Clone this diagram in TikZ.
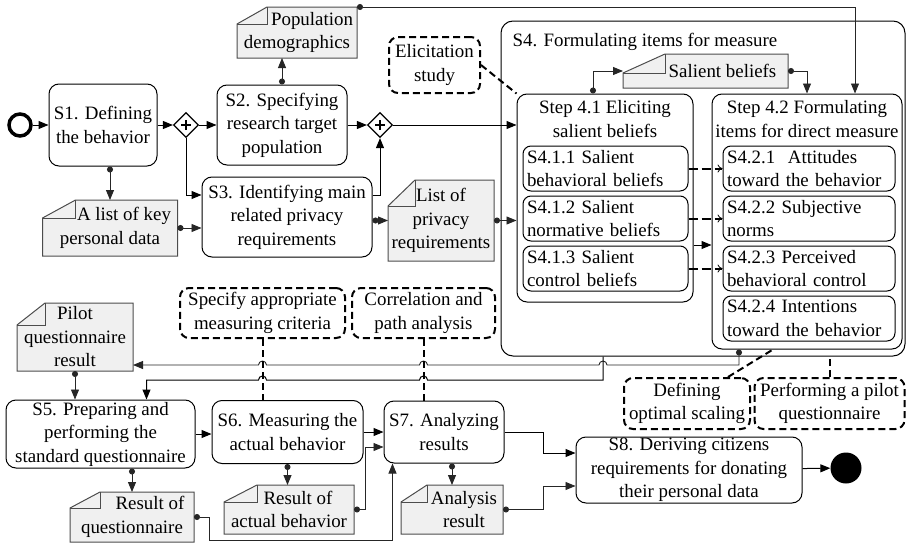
\documentclass[tikz,border=0pt]{standalone}
\usepackage{fontspec}
\setmainfont{Liberation Serif}
\usetikzlibrary{arrows.meta,shapes.geometric,backgrounds}

\newcommand\figfont{\fontsize{18.9}{23.5}\selectfont}

\tikzset{
  task/.style  = {rectangle, rounded corners=10pt, draw=black, line width=1pt,
                  align=center, inner sep=1pt, font=\figfont},
  sub/.style   = {rectangle, rounded corners=8pt, draw=black, line width=1pt,
                  align=left, inner xsep=4pt, inner ysep=1pt, minimum height=45pt, font=\figfont},
  doc/.style   = {rectangle, align=center, inner sep=1pt, outer sep=0pt, font=\figfont},
  anno/.style  = {rectangle, rounded corners=9pt, draw=black, line width=2pt,
                  dash pattern=on 7pt off 4pt, align=center, inner sep=1pt, font=\figfont},
  gate/.style  = {diamond, draw=black, line width=1.2pt, minimum size=25pt, inner sep=0pt,
                  path picture={
                    \draw[line width=2.6pt]
                      ([xshift=-5pt]path picture bounding box.center) -- ([xshift=5pt]path picture bounding box.center)
                      ([yshift=-5pt]path picture bounding box.center) -- ([yshift=5pt]path picture bounding box.center);
                  }},
  docline/.style = {draw=black!70, fill=black!6, line width=1pt},
  flow/.style  = {-{Triangle[length=10pt, width=8pt]}, line width=1pt},
  data/.style  = {{Circle[length=6pt]}-{Triangle[length=10pt, width=8pt]}, line width=0.9pt, black!85},
  assoc/.style = {line width=2pt, dash pattern=on 7pt off 4pt},
  inner/.style = {-{To[length=5pt, width=8pt, line width=0.8pt]}, line width=2pt,
                  dash pattern=on 9pt off 4pt},
}

\begin{document}
\begin{tikzpicture}[x=1pt, y=-1pt]
  \useasboundingbox (0,0) rectangle (906,546);

  % top row
  \node[circle, draw=black, line width=3.5pt, minimum size=22pt, inner sep=0pt] (start) at (20,125) {};
  \node[task, minimum width=108pt, minimum height=82pt] (s1) at (103,125) {S1. Defining\\the behavior};
  \node[gate] (gw1) at (186,125) {};
  \node[task, minimum width=130pt, minimum height=80pt] (s2) at (282,125) {S2. Specifying\\research target\\population};
  \node[gate] (gw2) at (380,125) {};
  \node[task, minimum width=170pt, minimum height=80pt] (s3) at (287,217) {S3. Identifying main\\related privacy\\requirements};

  \node[doc, minimum width=120pt, minimum height=51pt] (pop) at (297,32.5) {\hspace*{30pt}Population\\demographics};
  \node[doc, minimum width=135pt, minimum height=56pt] (keydata) at (110,228) {\hspace*{28pt}A list of key\\personal data};
  \node[doc, minimum width=106pt, minimum height=81pt] (privreq) at (441,220.5) {List of\\privacy\\requirements};
  \node[anno, minimum width=91pt, minimum height=56pt] (elicit) at (434.5,65) {Elicitation\\study};

  % S4 with its two steps
  \node[task, rounded corners=12pt, minimum width=404pt, minimum height=335pt] (s4) at (703,188.5) {};
  \node[anchor=west, inner sep=0pt, font=\figfont] (s4title) at ([shift={(12pt,-21pt)}]s4.north west) {S4. Formulating items for measure};
  \node[doc, minimum width=165pt, minimum height=34pt] (salient) at (705.5,71) {\hspace*{34pt}Salient beliefs};

  \node[task, minimum width=176pt, minimum height=208pt] (step41) at (605,198) {};
  \node[anchor=north, align=center, inner sep=1pt, font=\figfont] (step41t) at ([yshift=-6pt]step41.north) {Step 4.1 Eliciting\\salient beliefs};
  \node[task, minimum width=190pt, minimum height=255pt] (step42) at (807,221.5) {};
  \node[anchor=north, align=center, inner sep=1pt, font=\figfont] (step42t) at ([yshift=-6pt]step42.north) {Step 4.2 Formulating\\items for direct measure};

  \node[sub, text width=157pt] (s411) at (605.5,168.5) {S4.1.1 Salient\\behavioral beliefs};
  \node[sub, text width=157pt] (s412) at (605.5,218.5) {S4.1.2 Salient\\normative beliefs};
  \node[sub, text width=157pt] (s413) at (605.5,268.5) {S4.1.3 Salient\\control beliefs};
  \node[sub, text width=164pt] (s421) at (809,168.5) {S4.2.1\ \ Attitudes\\toward the behavior};
  \node[sub, text width=164pt] (s422) at (809,218.5) {S4.2.2 Subjective\\norms};
  \node[sub, text width=164pt] (s423) at (809,268.5) {S4.2.3 Perceived\\behavioral control};
  \node[sub, text width=164pt] (s424) at (809,318.5) {S4.2.4 Intentions\\toward the behavior};

  % annotations of the lower part
  \node[anno, minimum width=165pt, minimum height=50pt] (spec) at (262.5,313) {Specify appropriate\\measuring criteria};
  \node[anno, minimum width=143pt, minimum height=50pt] (corr) at (423.5,313) {Correlation and\\path analysis};
  \node[anno, minimum width=126pt, minimum height=51pt] (defn) at (687,403.5) {Defining\\optimal scaling};
  \node[anno, minimum width=150pt, minimum height=51pt] (perf) at (829.5,403.5) {Performing a pilot\\questionnaire};

  % bottom row
  \node[doc, minimum width=116pt, minimum height=68pt] (pilot) at (75,337) {Pilot\\questionnaire\\result};
  \node[task, minimum width=189pt, minimum height=68pt] (s5) at (100.5,434) {S5. Preparing and\\performing the\\standard questionnaire};
  \node[task, minimum width=151pt, minimum height=63pt] (s6) at (287.5,432) {S6. Measuring the\\actual behavior};
  \node[task, minimum width=120pt, minimum height=62pt] (s7) at (444,432) {S7. Analyzing\\results};
  \node[task, minimum width=226pt, minimum height=66pt] (s8) at (689,470) {S8. Deriving citizens\\requirements for donating\\their personal data};
  \node[circle, fill=black, minimum size=31pt, inner sep=0pt] (finish) at (846,468) {};

  \node[doc, minimum width=124pt, minimum height=50pt] (resq) at (132,517) {\hspace*{36pt}Result of\\questionnaire};
  \node[doc, minimum width=130pt, minimum height=49pt] (resact) at (289,509.5) {\hspace*{18pt}Result of\\actual behavior};
  \node[doc, minimum width=102pt, minimum height=49pt] (anres) at (452,509.5) {\hspace*{24pt}Analysis\\\hspace*{24pt}result};

  % data objects: folded sheets behind their texts
  \begin{scope}[on background layer]
    \foreach \d/\fx/\fy in {pop/30/17, keydata/33/18, privreq/27/26, salient/42/19,
                            pilot/28/22, resq/30/16, resact/33/17, anres/26/17} {
      \filldraw[docline] ([xshift=\fx pt]\d.north west) -- (\d.north east) -- (\d.south east)
        -- (\d.south west) -- ([yshift=-\fy pt]\d.north west) -- cycle;
      \draw[docline, fill=none] ([yshift=-\fy pt]\d.north west) -| ([xshift=\fx pt]\d.north west);
    }
  \end{scope}

  % sequence flow, top
  \draw[flow] (start) -- (s1);
  \draw[flow] (s1) -- (gw1);
  \draw[flow] (gw1) -- (s2);
  \draw[flow] (s2) -- (gw2);
  \draw[flow] (gw2) -- (gw2 -| step41.west);
  \draw[flow] (gw1.south) |- ([yshift=22pt]s3.west);
  \draw[flow] ([yshift=22pt]s3.east) -| (gw2.south);
  \draw[flow] ([yshift=-47pt]step41.east) -- ([yshift=-47pt]step41.east -| step42.west);

  % data flow, top
  \draw[data] (s1.south -| keydata.north) -- (keydata.north);
  \draw[data] (keydata.east) -- (keydata.east -| s3.west);
  \draw[data] (s2.north) -- (s2.north |- pop.south);
  \draw[data] (pop.north east) -| ([xshift=48pt]step42.north);
  \draw[data] (s3.east |- privreq.west) -- (privreq.west);
  \draw[data] (privreq.east) -- (privreq.east -| step41.west);
  \draw[data] ([xshift=-12pt]step41.north) |- (salient.west);
  \draw[data] (salient.east) -| (step42.north);

  \draw[inner] (s411) -- (s421);
  \draw[inner] (s412) -- (s422);
  \draw[inner] (s413) -- (s423);
  \draw[assoc] (elicit.east) -- (step41.north west);

  % the two return lines, hopping over the dashed ones
  \coordinate (busA) at (0,365);
  \coordinate (busB) at (0,380);
  \coordinate (s4drop) at ([xshift=-100pt]s4.south);
  \draw[data] ([xshift=-68pt]step42.south) |- ([xshift=4pt]s4drop |- busA)
    arc[start angle=0, end angle=180, radius=4pt] -- ([xshift=4pt]corr.south |- busA)
    arc[start angle=0, end angle=180, radius=4pt] -- ([xshift=4pt]spec.south |- busA)
    arc[start angle=0, end angle=180, radius=4pt] -- (pilot.east |- busA);
  \draw[flow] (s4drop) -- (s4drop |- busB) -- ([xshift=4pt]corr.south |- busB)
    arc[start angle=0, end angle=180, radius=4pt] -- ([xshift=4pt]spec.south |- busB)
    arc[start angle=0, end angle=180, radius=4pt] -| ([xshift=46pt]s5.north);

  \draw[assoc] (spec.south) -- (spec.south |- s6.north);
  \draw[assoc] (corr.south) -- (corr.south |- s7.north);
  \draw[assoc] ([xshift=41pt]defn.north) -- ([xshift=-34pt]step42.south);
  \draw[assoc] (perf.north) -- (perf.north |- s4.south);

  % bottom row
  \draw[data] (pilot.south) -- (pilot.south |- s5.north);
  \draw[flow] (s5.east) -- (s5.east -| s6.west);
  \draw[flow] (s6) -- (s7);
  \draw[data] (s5.south -| resq.north) -- (resq.north);
  \draw[data] (s6.south) -- (s6.south |- resact.north);
  \draw[data] (s7.south -| anres.north) -- (anres.north);
  \draw[data] (resq.east) -- ++(15,0) -- ++(0,23) -| ([xshift=9pt]s7.south west);
  \draw[data] (resact.east) -- ++(11,0) |- ([yshift=-15pt]s7.west);
  \draw[flow] (s7.east) -- ++(39,0) |- ([yshift=17pt]s8.west);
  \draw[data] (anres.east) -- ++(40,0) |- ([yshift=-16pt]s8.west);
  \draw[flow] (s8) -- (finish);
\end{tikzpicture}
\end{document}
